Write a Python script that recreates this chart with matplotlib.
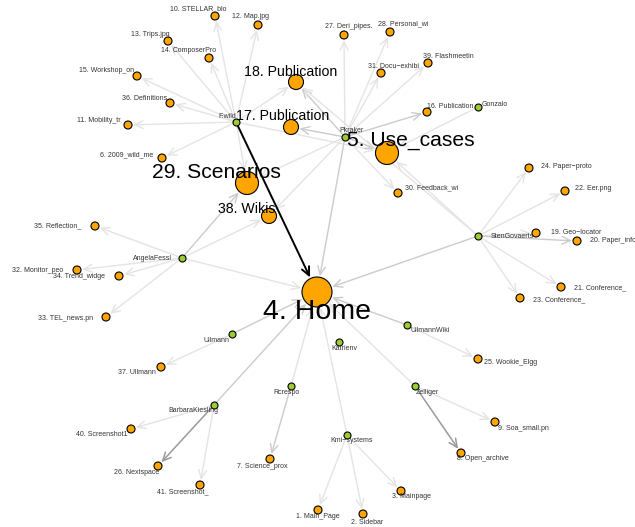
import matplotlib.pyplot as plt
from matplotlib.patches import FancyArrowPatch

plt.rcParams['font.family'] = ['Liberation Sans', 'DejaVu Sans']

# users (green) with their layout position in the picture (pixels)
users = ["F.wild", "Pkraker", "Gonzalo", "AngelaFessl", "StenGovaerts", "Ullmann",
         "UllmannWiki", "Katrienv", "Rcrespo", "BarbaraKiesling", "Kmi\u2212systems", "Zelliger"]
user_x = [236, 345, 478, 182, 478, 232, 407, 339, 291, 214, 347, 415]
user_y = [122, 137, 107, 258, 236, 334, 325, 342, 386, 405, 435, 386]

# pages (orange)
pages = ["1. Main_Page", "2. Sidebar", "3. Mainpage", "4. Home", "5. Use_cases",
         "6. 2009_wild_me", "7. Science_prox", "8. Open_archive", "9. Soa_small.pn",
         "10. STELLAR_blo", "11. Mobility_tr", "12. Map.jpg", "13. Trips.jpg",
         "14. ComposerPro", "15. Workshop_on", "16. Publication", "17. Publication",
         "18. Publication", "19. Geo\u2212locator", "20. Paper_info", "21. Conference_",
         "22. Eer.png", "23. Conference_", "24. Paper\u2212proto", "25. Wookie_Elgg",
         "26. Nextspace", "27. Deri_pipes.", "28. Personal_wi", "29. Scenarios",
         "30. Feedback_wi", "31. Docu\u2212exhibi", "32. Monitor_peo", "33. TEL_news.pn",
         "34. Trend_widge", "35. Reflection_", "36. Definitions", "37. Ullmann",
         "38. Wikis", "39. Flashmeetin", "40. Screenshot1", "41. Screenshot_"]
page_x = [318, 363, 401, 317, 387, 162, 270, 461, 495, 215, 128, 258, 168, 209, 137,
          427, 291, 296, 536, 577, 561, 565, 520, 529, 478, 158, 344, 390, 247, 398,
          381, 77, 106, 119, 95, 170, 161, 269, 428, 131, 200]
page_y = [510, 514, 491, 292, 153, 158, 459, 453, 422, 16, 125, 25, 41, 58, 76,
          112, 127, 82, 233, 241, 287, 191, 298, 168, 359, 466, 35, 32, 183, 193,
          73, 270, 317, 276, 226, 103, 367, 216, 63, 429, 485]
page_weight = [1, 1, 1, 10, 5, 1, 1, 1, 1, 1, 1, 1, 1, 1, 1, 1, 3, 3, 1, 1, 1, 1, 1,
               1, 1, 1, 1, 1, 5, 1, 1, 1, 1, 1, 1, 1, 1, 3, 1, 1, 1]

# edges: user index -> page number, and edge weight
edge_src = [0, 0, 0, 0, 0, 0, 0, 0, 0, 0, 0, 0,
            1, 1, 1, 1, 1, 1, 1, 1, 1, 1, 1, 1,
            2,
            3, 3, 3, 3, 3, 3, 3,
            4, 4, 4, 4, 4, 4, 4, 4, 4,
            5, 5, 6, 6, 8, 8,
            9, 9, 9, 9,
            10, 10, 10, 10,
            11, 11, 11]
edge_dst = [10, 12, 13, 14, 15, 36, 11, 6, 18, 29, 5, 4,
            27, 28, 31, 39, 16, 17, 18, 5, 30, 4, 38, 29,
            5,
            35, 32, 34, 33, 29, 38, 4,
            24, 22, 19, 21, 23, 20, 4, 5, 18,
            4, 37, 4, 25, 4, 7,
            4, 40, 26, 41,
            4, 1, 2, 3,
            4, 9, 8]
edge_w = [1, 1, 1, 1, 1, 1, 1, 1, 1, 1, 1, 8,
          1, 1, 1, 1, 2, 2, 2, 2, 1, 2, 1, 1,
          1,
          1, 1, 1, 1, 2, 1, 1,
          1, 1, 1, 1, 1, 2, 2, 1, 1,
          2, 1, 2, 1, 1, 2,
          2, 1, 4, 1,
          1, 1, 1, 1,
          1, 1, 4]

# label offsets (pixels) from the node centre
user_off = [(-9, -6), (6, -6), (17, -3), (-30, 0), (34, 0), (-15, 7), (23, 5), (5, 7),
            (-4, 7), (-21, 6), (5, 6), (12, 6)]
page_off = [(0, 7), (4, 8), (10, 6), (0, 20), (24, -12), (-35, -3), (-8, 8), (22, 5),
            (28, 6), (-17, -7), (-29, -4), (-7, -9), (-18, -7), (-20, -7), (-30, -5),
            (23, -5), (-8, -11), (-5, -10), (40, -1), (36, 0), (39, 1), (28, -2),
            (39, 2), (37, -2), (33, 4), (-21, 6), (5, -8), (13, -8), (-31, -11),
            (34, -5), (13, -6), (-39, 0), (-40, 2), (-40, 1), (-37, 0), (-25, -4),
            (-24, 5), (-22, -7), (20, -6), (-29, 5), (-17, 7)]

diam_px = {1: 8, 3: 15, 5: 23, 10: 30}
font_pt = {1: 5, 3: 10.2, 5: 15.2, 10: 20.5}
edge_col = {1: '#e4e4e4', 2: '#cbcbcb', 4: '#9a9a9a', 8: 'black'}
edge_lw = {1: 1.0, 2: 1.0, 4: 1.1, 8: 1.4}

fig = plt.figure(figsize=(6.35, 5.27), dpi=100)
ax = fig.add_axes([0, 0, 1, 1])
ax.set_xlim(0, 635)
ax.set_ylim(527, 0)
ax.axis('off')

# edges with open arrow heads
for s, d, w in zip(edge_src, edge_dst, edge_w):
    x0, y0 = user_x[s], user_y[s]
    x1, y1 = page_x[d - 1], page_y[d - 1]
    r_pt = diam_px[page_weight[d - 1]] * 0.72 / 2
    arr = FancyArrowPatch((x0, y0), (x1, y1),
                          arrowstyle='->,head_length=0.6,head_width=0.28',
                          mutation_scale=10, shrinkA=0, shrinkB=r_pt + 0.8,
                          color=edge_col[w], lw=edge_lw[w],
                          zorder=3 if w == 8 else 1)
    ax.add_patch(arr)

# nodes
sizes = [(diam_px[w] * 0.72) ** 2 for w in page_weight]
ax.scatter(page_x, page_y, s=sizes, c='orange', edgecolors='black',
           linewidths=0.8, zorder=4)
ax.scatter(user_x, user_y, s=(7 * 0.72) ** 2, c='yellowgreen', edgecolors='black',
           linewidths=0.8, zorder=4)

# labels
for name, x, y, (dx, dy) in zip(users, user_x, user_y, user_off):
    ax.text(x + dx, y + dy, name, fontsize=5, color='#333333',
            ha='center', va='center', zorder=5)
for name, x, y, w, (dx, dy) in zip(pages, page_x, page_y, page_weight, page_off):
    ax.text(x + dx, y + dy, name, fontsize=font_pt[w],
            color='black' if w > 1 else '#333333',
            ha='center', va='center', zorder=5)

fig.savefig('out.png', dpi=100)
